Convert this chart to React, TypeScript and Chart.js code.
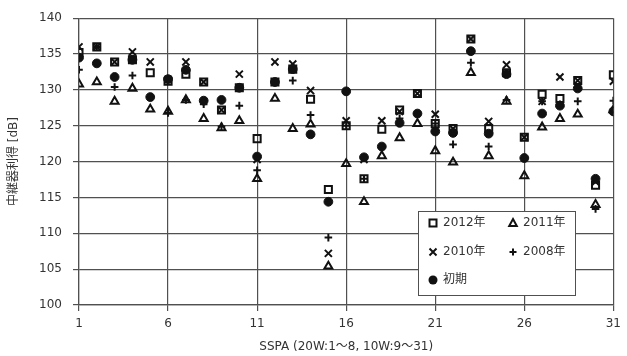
import React, { useEffect, useRef } from 'react';
import { Chart, registerables } from 'chart.js';

Chart.register(...registerables);

// SSPA numbers (x categories)
const sspa = [1, 2, 3, 4, 5, 6, 7, 8, 9, 10, 11, 12, 13, 14, 15, 16, 17, 18, 19, 20, 21, 22, 23, 24, 25, 26, 27, 28, 29, 30, 31];

const y2012 = [135.2, 136, 133.9, 134.2, 132.4, 131.2, 132.2, 131.1, 127.2, 130.3, 123.2, 131.1, 132.9, 128.7, 116.1, 125, 117.6, 124.5, 127.2, 129.5, 125.3, 124.6, 137.1, 124.6, 132.4, 123.4, 129.4, 128.8, 131.3, 116.7, 132.1];
const y2011 = [130.8, 131.1, 128.4, 130.2, 127.3, 127, 128.6, 126, 124.7, 125.7, 117.6, 128.8, 124.6, 125.2, 105.4, 119.7, 114.4, 120.8, 123.3, 125.3, 121.5, 119.9, 132.4, 120.8, 128.4, 118, 124.8, 126, 126.6, 114, 127.2];
const y2010 = [136, 136, 133.9, 135.3, 133.9, 131.5, 133.9, 131.1, 127.2, 132.2, 120.3, 133.9, 133.6, 129.9, 107.2, 125.7, 120.3, 125.7, 127, 129.5, 126.6, 124.6, 137.1, 125.6, 133.5, 123.4, 128.4, 131.8, 131.3, 117.2, 131.2];
const y2008 = [132.8, 136, 130.4, 132, 129, 126.8, 128.6, 128, 124.9, 127.8, 118.8, 131.1, 131.3, 126.5, 109.4, 125, 117.6, 122, 126, 126.7, 125.3, 122.4, 133.8, 122.1, 128.6, 120.5, 128.4, 128, 128.4, 113.4, 128.5];
const yInitial = [134.5, 133.7, 131.8, 134.2, 129, 131.5, 132.8, 128.5, 128.6, 130.3, 120.7, 131.1, 132.9, 123.8, 114.4, 129.8, 120.6, 122.1, 125.4, 126.7, 124.2, 124, 135.4, 123.9, 132.2, 120.5, 126.7, 127.8, 130.2, 117.6, 127];

const xTickValues = [1, 6, 11, 16, 21, 26, 31];
const yTickValues = [100, 105, 110, 115, 120, 125, 130, 135, 140];

const seriesLabels = ['2012年', '2011年', '2010年', '2008年', '初期'];
const xTitle = 'SSPA (20W:1～8, 10W:9～31)';
const yTitle = '中継器利得 [dB]';

const FONT = "'DejaVu Sans', 'Noto Sans CJK JP', sans-serif";
const GRID = '#505050';
const INK = '#111111';

function toPoints(ys: number[]) {
  return sspa.map((x, i) => ({ x, y: ys[i] }));
}

function drawSymbol(ctx: CanvasRenderingContext2D, kind: string, cx: number, cy: number) {
  ctx.save();
  ctx.strokeStyle = INK;
  ctx.fillStyle = INK;
  ctx.lineWidth = 2;
  ctx.beginPath();
  if (kind === 'rect') {
    ctx.rect(cx - 3.5, cy - 3.5, 7, 7);
    ctx.stroke();
  } else if (kind === 'triangle') {
    ctx.moveTo(cx, cy - 4);
    ctx.lineTo(cx + 3.8, cy + 3);
    ctx.lineTo(cx - 3.8, cy + 3);
    ctx.closePath();
    ctx.stroke();
  } else if (kind === 'crossRot') {
    ctx.moveTo(cx - 3.5, cy - 3.5);
    ctx.lineTo(cx + 3.5, cy + 3.5);
    ctx.moveTo(cx + 3.5, cy - 3.5);
    ctx.lineTo(cx - 3.5, cy + 3.5);
    ctx.stroke();
  } else if (kind === 'cross') {
    ctx.moveTo(cx - 3.5, cy);
    ctx.lineTo(cx + 3.5, cy);
    ctx.moveTo(cx, cy - 3.5);
    ctx.lineTo(cx, cy + 3.5);
    ctx.stroke();
  } else {
    ctx.arc(cx, cy, 4.5, 0, Math.PI * 2);
    ctx.fill();
  }
  ctx.restore();
}

const legendPlugin = {
  id: 'boxLegend',
  afterDraw(chart: any) {
    const ctx: CanvasRenderingContext2D = chart.ctx;
    ctx.save();
    ctx.fillStyle = '#ffffff';
    ctx.strokeStyle = GRID;
    ctx.lineWidth = 1;
    ctx.fillRect(418.5, 211.5, 157, 84);
    ctx.strokeRect(418.5, 211.5, 157, 84);
    const kinds = ['rect', 'triangle', 'crossRot', 'cross', 'circle'];
    const pos = [
      [433, 223], [513, 223],
      [433, 252], [513, 252],
      [433, 280],
    ];
    ctx.font = `12px ${FONT}`;
    ctx.textBaseline = 'middle';
    ctx.textAlign = 'left';
    kinds.forEach((k, i) => {
      const [sx, sy] = pos[i];
      drawSymbol(ctx, k, sx, sy);
      ctx.fillStyle = '#333333';
      ctx.fillText(seriesLabels[i], sx + 10, sy);
    });
    ctx.restore();
  },
};

export default function App() {
  const ref = useRef<HTMLCanvasElement | null>(null);

  useEffect(() => {
    if (!ref.current) return;
    const common = { showLine: false, pointHoverRadius: 5 };
    const chart = new Chart(ref.current, {
      type: 'scatter',
      data: {
        datasets: [
          { ...common, label: seriesLabels[0], data: toPoints(y2012), pointStyle: 'rect', pointRadius: 5, borderWidth: 2, borderColor: INK, backgroundColor: 'rgba(0,0,0,0)', order: 4 },
          { ...common, label: seriesLabels[1], data: toPoints(y2011), pointStyle: 'triangle', pointRadius: 4.6, borderWidth: 2, borderColor: INK, backgroundColor: 'rgba(0,0,0,0)', order: 3 },
          { ...common, label: seriesLabels[2], data: toPoints(y2010), pointStyle: 'crossRot', pointRadius: 5, borderWidth: 2, borderColor: INK, backgroundColor: 'rgba(0,0,0,0)', order: 2 },
          { ...common, label: seriesLabels[3], data: toPoints(y2008), pointStyle: 'cross', pointRadius: 3.8, borderWidth: 2, borderColor: INK, backgroundColor: 'rgba(0,0,0,0)', order: 1 },
          { ...common, label: seriesLabels[4], data: toPoints(yInitial), pointStyle: 'circle', pointRadius: 4.4, borderWidth: 1, borderColor: INK, backgroundColor: INK, order: 0 },
        ] as any,
      },
      options: {
        animation: false,
        responsive: false,
        maintainAspectRatio: false,
        layout: { autoPadding: false, padding: { left: 0, right: 6, top: 16, bottom: 0 } } as any,
        plugins: { legend: { display: false }, tooltip: { enabled: false } },
        scales: {
          x: {
            type: 'linear',
            min: 1,
            max: 31,
            afterBuildTicks: (scale: any) => {
              scale.ticks = xTickValues.map((v) => ({ value: v }));
            },
            afterFit: (scale: any) => {
              scale.height = 51;
            },
            grid: { color: GRID, lineWidth: 1.2, tickLength: 6, tickColor: GRID },
            border: { color: GRID, width: 1.2 },
            ticks: { color: '#333333', font: { family: FONT, size: 12 }, padding: 6, maxRotation: 0, autoSkip: false },
            title: { display: true, text: xTitle, color: '#333333', font: { family: FONT, size: 12 }, padding: { top: 4, bottom: 2 } },
          },
          y: {
            type: 'linear',
            min: 100,
            max: 140,
            afterBuildTicks: (scale: any) => {
              scale.ticks = yTickValues.map((v) => ({ value: v }));
            },
            afterFit: (scale: any) => {
              scale.width = 79;
            },
            grid: { color: GRID, lineWidth: 1.2, tickLength: 6, tickColor: GRID },
            border: { color: GRID, width: 1.2 },
            ticks: { color: '#333333', font: { family: FONT, size: 12 }, padding: 11 },
            title: { display: true, text: yTitle, color: '#333333', font: { family: FONT, size: 12 }, padding: { top: 7, bottom: 4 } },
          },
        },
      } as any,
      plugins: [legendPlugin],
    });
    return () => chart.destroy();
  }, []);

  return (
    <div style={{ position: 'fixed', left: 0, top: 0, width: 627, height: 356, background: '#ffffff' }}>
      <canvas ref={ref} width={627} height={356} style={{ width: 627, height: 356, display: 'block' }} />
    </div>
  );
}
